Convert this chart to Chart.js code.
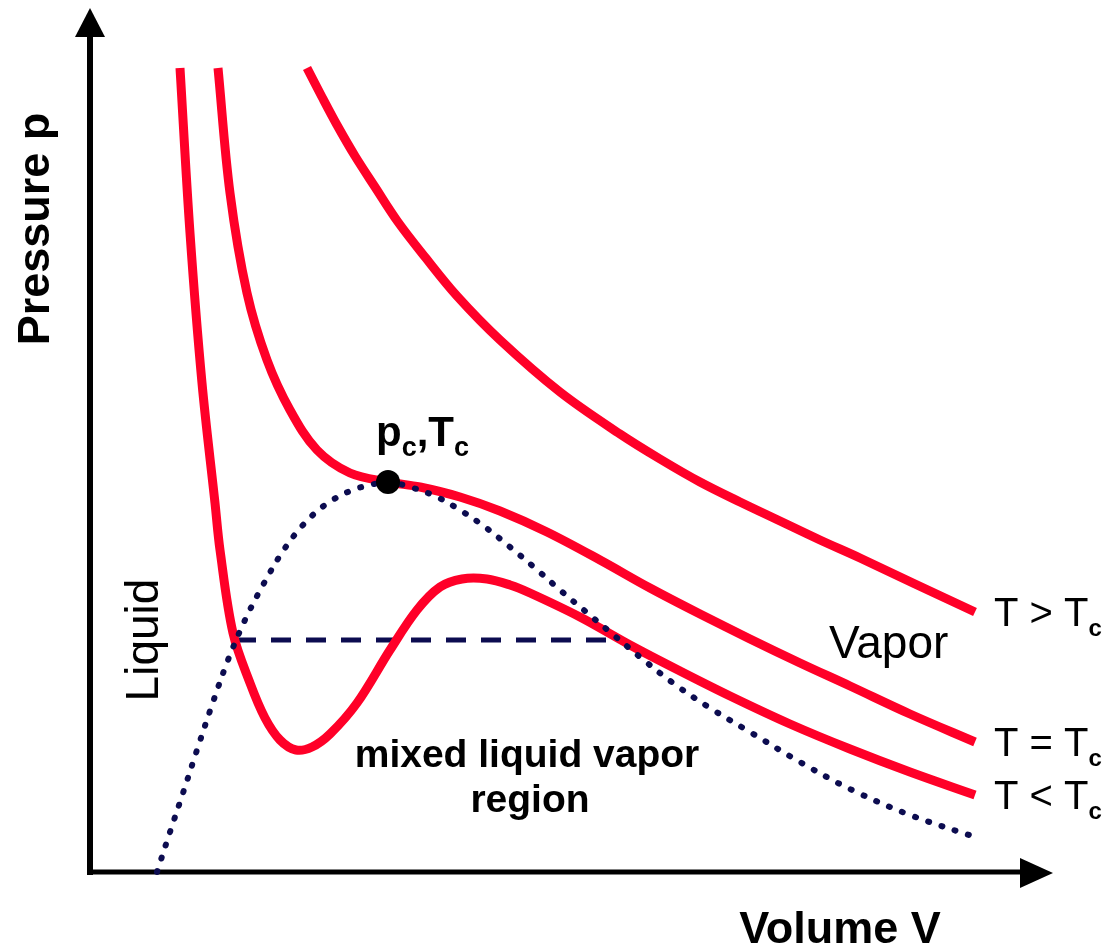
<!DOCTYPE html>
<html>
<head>
<meta charset="utf-8">
<script src="https://cdn.jsdelivr.net/npm/chart.js@4.4.1/dist/chart.umd.min.js"></script>
<style>
  html, body { margin: 0; padding: 0; background: #fff; }
  canvas { display: block; }
</style>
</head>
<body>
<canvas id="pvChart" width="1103" height="946"></canvas>
<script>
// isotherms (volume V, pressure p, arbitrary units)
const volHot = [21.6, 23.1, 24.6, 26.4, 28.4, 30.7, 33.4, 36.6, 40.9, 46.9, 52.9, 56.9, 60.9, 64.9, 68.9, 72.9, 76.9, 82.4, 88.4];
const presHot = [80.4, 77.5, 74.7, 71.6, 68.5, 65.0, 61.5, 57.6, 53.2, 48.0, 43.8, 41.3, 39.0, 37.0, 35.1, 33.2, 31.4, 28.8, 26.0];

const volCrit = [12.7, 13.9, 15.6, 17.6, 19.9, 22.6, 25.9, 29.7, 32.9, 36.9, 40.9, 45.6, 50.9, 55.9, 60.9, 65.9, 70.9, 75.9, 81.9, 88.4];
const presCrit = [80.4, 67.9, 57.9, 51.2, 46.2, 42.2, 39.9, 39.0, 38.5, 37.5, 36.1, 34.0, 31.2, 28.4, 25.8, 23.3, 20.9, 18.6, 15.8, 13.0];

const volCold = [8.9, 9.9, 11.1, 12.4, 12.9, 14.2, 15.9, 17.4, 18.9, 20.5, 22.1, 23.9, 26.6, 29.9, 32.6, 34.9, 37.1, 39.6, 41.9, 43.9, 48.9, 53.9, 58.9, 63.9, 69.9, 75.9, 81.9, 88.4];
const presCold = [80.4, 63.9, 48.9, 36.9, 32.2, 23.9, 18.9, 15.4, 13.2, 12.2, 12.5, 13.8, 16.9, 22.2, 26.2, 28.5, 29.3, 29.3, 28.7, 27.9, 25.5, 22.7, 20.1, 17.6, 14.8, 12.3, 10.0, 7.7];

// saturation dome
const volDome = [6.6, 7.9, 9.2, 10.6, 12.1, 13.7, 15.4, 17.2, 19.2, 21.2, 23.4, 25.9, 27.9, 29.7, 31.9, 34.4, 36.9, 39.4, 41.9, 44.4, 46.9, 49.4, 51.9, 54.9, 58.2, 61.9, 65.9, 70.9, 75.9, 81.9, 88.4];
const presDome = [0, 4.0, 7.9, 12.2, 16.7, 21.2, 25.2, 28.7, 32.1, 34.7, 36.7, 38.1, 38.7, 39.0, 38.5, 37.6, 36.2, 34.5, 32.5, 30.4, 28.2, 26.1, 24.0, 21.5, 18.9, 16.4, 14.0, 11.0, 8.3, 5.7, 3.5];

// Maxwell line and critical point
const volTie = [14.5, 52.7];
const presTie = [23.2, 23.2];
const critPoint = { v: 29.7, p: 39.0 };

const RED = '#ff0028';
const NAVY = '#0c0c50';
const FONT = '"Liberation Sans", Arial, sans-serif';

const toPts = (xs, ys) => xs.map((x, i) => ({ x: x, y: ys[i] }));

// axes with arrow heads + all the text labels
const decorations = {
  id: 'decorations',
  beforeDatasetsDraw(chart) {
    const { ctx, chartArea: a } = chart;
    ctx.save();
    ctx.strokeStyle = '#000';
    ctx.fillStyle = '#000';
    ctx.lineWidth = 6;
    ctx.beginPath();
    ctx.moveTo(a.left - 1, a.bottom + 3);
    ctx.lineTo(a.left - 1, a.top + 6);
    ctx.stroke();
    ctx.lineWidth = 5;
    ctx.beginPath();
    ctx.moveTo(a.left - 4, a.bottom);
    ctx.lineTo(a.right - 12, a.bottom);
    ctx.stroke();
    // arrow heads
    ctx.beginPath();
    ctx.moveTo(a.left - 1, a.top - 22);
    ctx.lineTo(a.left - 16, a.top + 7);
    ctx.lineTo(a.left + 14, a.top + 7);
    ctx.closePath();
    ctx.fill();
    ctx.beginPath();
    ctx.moveTo(a.right + 18, a.bottom + 1);
    ctx.lineTo(a.right - 15, a.bottom - 14);
    ctx.lineTo(a.right - 15, a.bottom + 16);
    ctx.closePath();
    ctx.fill();
    ctx.restore();
  },
  afterDatasetsDraw(chart) {
    const { ctx, scales: { x, y } } = chart;
    ctx.save();
    ctx.fillStyle = '#000';
    ctx.textAlign = 'center';
    ctx.textBaseline = 'alphabetic';

    // axis titles
    ctx.font = 'bold 45px ' + FONT;
    ctx.fillText('Volume V', 840, 943);
    ctx.save();
    ctx.translate(49, 229);
    ctx.rotate(-Math.PI / 2);
    ctx.fillText('Pressure p', 0, 0);
    ctx.restore();

    // region names
    ctx.font = '46px ' + FONT;
    ctx.save();
    ctx.translate(158, 640);
    ctx.rotate(-Math.PI / 2);
    ctx.fillText('Liquid', 0, 0);
    ctx.restore();
    ctx.textAlign = 'left';
    ctx.fillText('Vapor', 829, 658);

    ctx.font = 'bold 39px ' + FONT;
    ctx.textAlign = 'center';
    ctx.fillText('mixed liquid vapor', 527, 767);
    ctx.fillText('region', 530, 812);

    // text with a subscript c
    const withSub = (parts, x0, base) => {
      let cx = x0;
      ctx.textAlign = 'left';
      parts.forEach(([txt, font, dy]) => {
        ctx.font = font;
        ctx.fillText(txt, cx, base + dy);
        cx += ctx.measureText(txt).width;
      });
    };

    const cx = x.getPixelForValue(critPoint.v);
    const cy = y.getPixelForValue(critPoint.p);
    const big = 'bold 42px ' + FONT;
    const sub = 'bold 27px ' + FONT;
    withSub([['p', big, 0], ['c', sub, 10], [',', big, 0], ['T', big, 0], ['c', sub, 10]], cx - 12, cy - 36);

    // isotherm names next to the line ends
    const ends = [
      ['T > T', volHot, presHot],
      ['T = T', volCrit, presCrit],
      ['T < T', volCold, presCold]
    ];
    ends.forEach(([txt, vs, ps]) => {
      const ex = x.getPixelForValue(vs[vs.length - 1]) + 19;
      const ey = y.getPixelForValue(ps[ps.length - 1]) + 14;
      withSub([[txt, '40px ' + FONT, 0], ['c', 'bold 24px ' + FONT, 10]], ex, ey);
    });
    ctx.restore();
  }
};

const redLine = (xs, ys) => ({
  data: toPts(xs, ys),
  borderColor: RED,
  borderWidth: 9,
  pointRadius: 0,
  fill: false,
  tension: 0.35,
  order: 3
});

new Chart(document.getElementById('pvChart').getContext('2d'), {
  type: 'line',
  data: {
    datasets: [
      {
        data: [{ x: critPoint.v, y: critPoint.p }],
        showLine: false,
        pointRadius: 12,
        pointBackgroundColor: '#000',
        pointBorderWidth: 0,
        order: 0
      },
      {
        data: toPts(volDome, presDome),
        borderColor: NAVY,
        borderWidth: 6,
        borderDash: [1, 13],
        borderCapStyle: 'round',
        pointRadius: 0,
        fill: false,
        tension: 0.35,
        order: 1
      },
      redLine(volHot, presHot),
      redLine(volCrit, presCrit),
      redLine(volCold, presCold),
      {
        data: toPts(volTie, presTie),
        borderColor: NAVY,
        borderWidth: 5,
        borderDash: [20, 15],
        pointRadius: 0,
        fill: false,
        order: 5
      }
    ]
  },
  options: {
    responsive: false,
    animation: false,
    layout: { padding: { left: 91, right: 68, top: 30, bottom: 74 } },
    scales: {
      x: { type: 'linear', min: 0, max: 94.4, display: false },
      y: { type: 'linear', min: 0, max: 84.2, display: false }
    },
    plugins: { legend: { display: false }, tooltip: { enabled: false } },
    elements: { line: { clip: false } },
    clip: false
  },
  plugins: [decorations]
});
</script>
</body>
</html>
